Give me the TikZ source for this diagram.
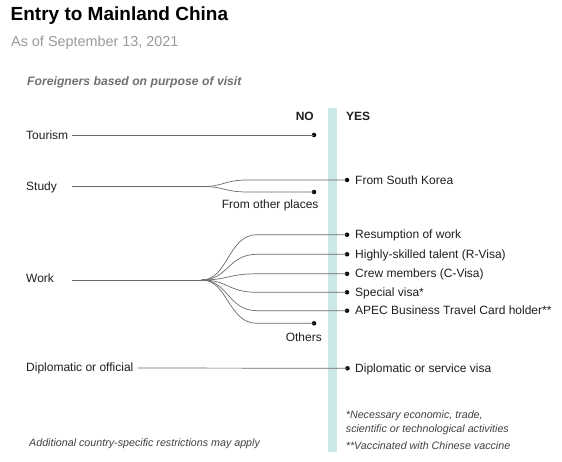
\documentclass[tikz,border=0pt]{standalone}
\usepackage{fontspec}
\setmainfont{Liberation Sans}
\definecolor{txt}{HTML}{1E1E1E}
\definecolor{sub}{HTML}{9A9A9A}
\definecolor{hdr}{HTML}{707070}
\definecolor{ln}{HTML}{6A6A6A}
\definecolor{bar}{HTML}{CBE8E8}
\begin{document}
\begin{tikzpicture}[x=1pt,y=-1pt,
  lbl/.style={inner sep=0pt,font=\fontsize{12}{14}\selectfont,text=txt},
  lw/.style={lbl,anchor=base west},
  le/.style={lbl,anchor=base east},
  note/.style={inner sep=0pt,anchor=base west,font=\fontsize{10.7}{12}\selectfont\itshape,text=txt!85},
  conn/.style={draw=ln,line width=0.7pt},
  dot/.style={circle,fill=black,inner sep=0pt,minimum size=4.5pt}]
\useasboundingbox (0,0) rectangle (562,462);
\fill[bar] (328.3,108) rectangle (336.5,452);
% titles
\node[inner sep=0pt,anchor=base west,font=\fontsize{19}{21}\selectfont\bfseries,text=black] (title) at (10.5,20.5) {Entry to Mainland China};
\node[inner sep=0pt,anchor=base west,font=\fontsize{14.4}{16}\selectfont,text=sub] (subt) at (11,46.7) {As of September 13, 2021};
\node[inner sep=0pt,anchor=base west,font=\fontsize{12.2}{14}\selectfont\bfseries\itshape,text=hdr] (hdr) at (27,85.5) {Foreigners based on purpose of visit};
\node[lbl,anchor=base east,font=\fontsize{12}{14}\selectfont\bfseries] (no) at (314,120.3) {NO};
\node[lbl,anchor=base west,font=\fontsize{12}{14}\selectfont\bfseries] (yes) at (346,120.3) {YES};
% Tourism
\node[lw] (tour) at (26,139.3) {Tourism};
\node[dot] (tourE) at (314,135) {};
\coordinate (tourS) at (72,135);
\draw[conn] (tourS) -- (tourE.center);
% Study
\node[lw] (study) at (26,190.5) {Study};
\coordinate (studyA) at (72,186.5);
\coordinate (studyS) at (203,186.5);
\node[dot] (skE) at (347,180) {};
\node[lw] (sk) at (355,184.2) {From South Korea};
\node[dot] (soE) at (314,192) {};
\node[le] (so) at (318.7,208.3) {From other places};
\draw[conn] (studyA) -- (studyS);
\draw[conn] (studyS) .. controls (224,186.5) and (224,180) .. (248,180) -- (skE.center);
\draw[conn] (studyS) .. controls (224,186.5) and (224,192) .. (248,192) -- (soE.center);
% Work
\node[lw] (work) at (26,282.3) {Work};
\coordinate (workA) at (72,280);
\coordinate (workS) at (201.7,280);
\draw[conn] (workA) -- (workS);
\foreach \y/\t/\n in {234.7/Resumption of work/w1,254.3/Highly-skilled talent (R-Visa)/w2,273.8/Crew members (C-Visa)/w3,292.3/Special visa*/w4,310.7/APEC Business Travel Card holder**/w5}{
  \node[dot] (\n E) at (347,\y) {};
  \node[lw] (\n) at (355,\y+4.2) {\t};
  \draw[conn] (workS) .. controls (228,280) and (228,\y) .. (257,\y) -- (\n E.center);
}
\node[dot] (othE) at (314,323.3) {};
\node[le] (oth) at (322,341) {Others};
\draw[conn] (workS) .. controls (228,280) and (228,323.3) .. (257,323.3) -- (othE.center);
% Diplomatic
\node[lw] (dip) at (26,371.8) {Diplomatic or official};
\node[dot] (dipE) at (347.5,368.3) {};
\node[lw] (dv) at (355,372.5) {Diplomatic or service visa};
\coordinate (dipS) at (137.5,368);
\draw[conn] (dipS) -- (dipE.center);
% notes
\node[note] (n1) at (345.7,418.8) {*Necessary economic, trade,};
\node[note] (n2) at (345.7,432.8) {scientific or technological activities};
\node[note] (n3) at (345.7,449.8) {**Vaccinated with Chinese vaccine};
\node[note] (n4) at (29,446.8) {Additional country-specific restrictions may apply};
\end{tikzpicture}
\end{document}
